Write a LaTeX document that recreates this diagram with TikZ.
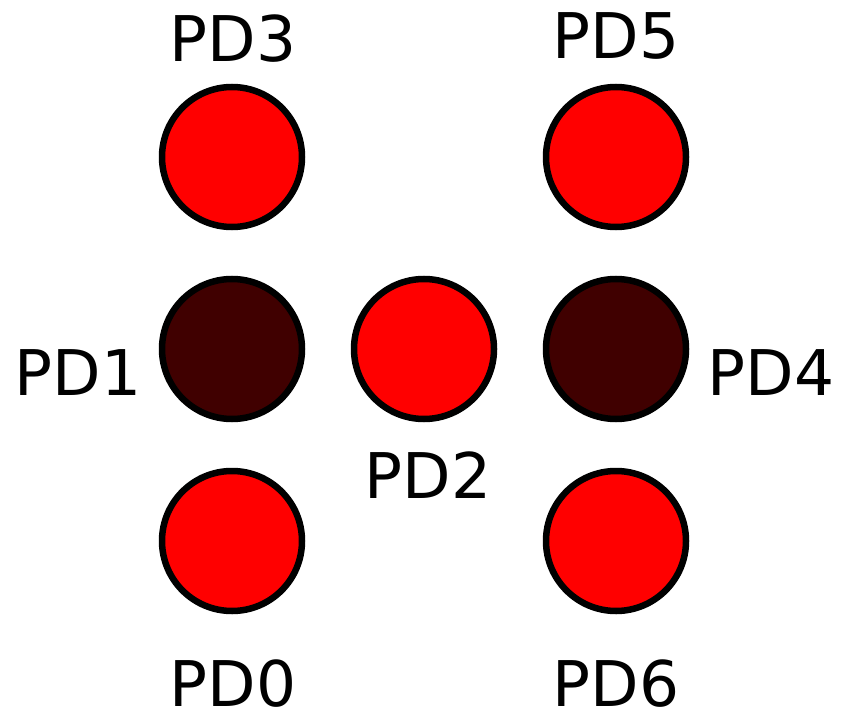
\documentclass[tikz,border=0pt]{standalone}
\usepackage{fontspec}
\setmainfont{DejaVu Sans}
\definecolor{ledred}{HTML}{FF0000}
\definecolor{leddark}{HTML}{400000}
\begin{document}
\begin{tikzpicture}[x=1pt,y=-1pt,
  led/.style={circle,draw=black,line width=6.5pt,minimum size=140pt,inner sep=0pt},
  on/.style={led,fill=ledred},
  off/.style={led,fill=leddark},
  lbl/.style={font=\fontsize{63}{63}\selectfont,inner sep=0pt,anchor=base}]
\useasboundingbox (0,0) rectangle (848,711);
\node[on]  (pd3) at (232,157) {};
\node[on]  (pd5) at (616,157) {};
\node[off] (pd1) at (232,349) {};
\node[on]  (pd2) at (424,349) {};
\node[off] (pd4) at (616,349) {};
\node[on]  (pd0) at (232,541) {};
\node[on]  (pd6) at (616,541) {};
\node[lbl] (l3) at (233,62) {PD3};
\node[lbl] (l5) at (616,59) {PD5};
\node[lbl] (l1) at (78,395) {PD1};
\node[lbl] (l4) at (771,395) {PD4};
\node[lbl] (l2) at (428,498) {PD2};
\node[lbl] (l0) at (233,706) {PD0};
\node[lbl] (l6) at (616,706) {PD6};
\end{tikzpicture}
\end{document}
